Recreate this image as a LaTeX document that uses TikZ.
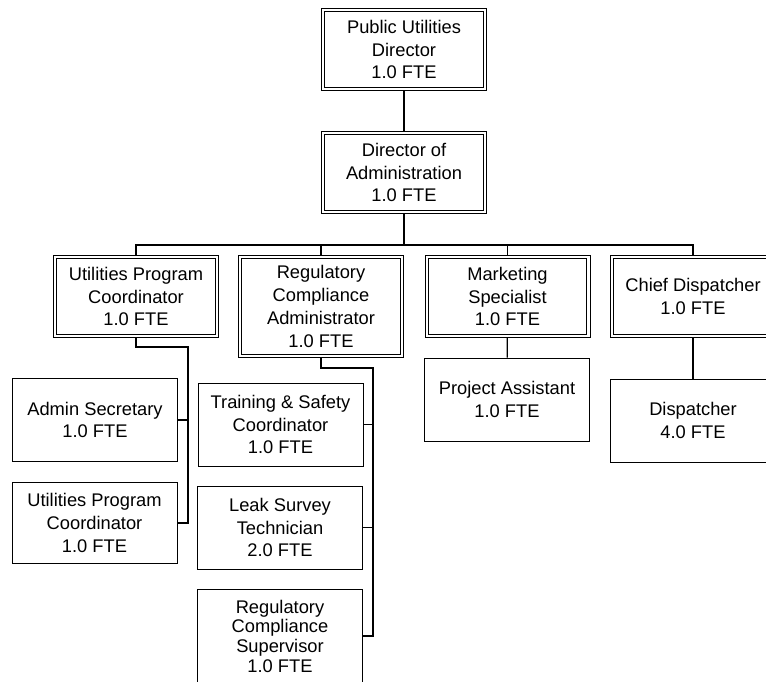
\documentclass[tikz,border=0pt]{standalone}
\usepackage{fontspec}
\setmainfont{Liberation Sans}
\usetikzlibrary{positioning}

\begin{document}
\begin{tikzpicture}[x=1pt, y=-1pt, font=\fontsize{18.3}{22.7}\selectfont,
    box/.style={draw, line width=1pt, inner sep=0pt, align=center, minimum width=165pt, minimum height=83pt},
    headbox/.style={box, double, double distance=2.3pt, outer sep=2.15pt, minimum width=161.7pt, minimum height=78.7pt},
    link/.style={line width=1.2pt}]
    \useasboundingbox (0,0) rectangle (766,681);
    \clip (0,0) rectangle (766,681);
    % management
    \node[headbox] (pud) at (404,49.5) {Public Utilities\\Director\\1.0 FTE};
    \node[headbox] (doa) at (404,172.5) {Director of\\Administration\\1.0 FTE};
    % divisions
    \node[headbox] (upc) at (136,296.5) {Utilities Program\\Coordinator\\1.0 FTE};
    \node[headbox, minimum height=98.7pt] (rca) at (321,306.5) {Regulatory\\Compliance\\Administrator\\1.0 FTE};
    \node[headbox] (ms) at (507.5,296.5) {Marketing\\Specialist\\1.0 FTE};
    \node[headbox] (cd) at (693,296.5) {Chief Dispatcher\\1.0 FTE};
    % staff
    \node[box] (as) at (95,420) {Admin Secretary\\1.0 FTE};
    \node[box, minimum height=81pt] (upc2) at (94.5,523) {Utilities Program\\Coordinator\\1.0 FTE};
    \node[box] (tsc) at (280.5,424.5) {Training \& Safety\\Coordinator\\1.0 FTE};
    \node[box] (lst) at (280,527.5) {Leak Survey\\Technician\\2.0 FTE};
    \node[box, minimum height=93pt, font=\fontsize{18.3}{19.7}\selectfont] (rcs) at (280,636) {Regulatory\\Compliance\\Supervisor\\1.0 FTE};
    \node[box] (pa) at (507,399.5) {Project Assistant\\1.0 FTE};
    \node[box] (dis) at (693,420.5) {Dispatcher\\4.0 FTE};
    % connectors
    \coordinate (bus) at (404,245);
    \coordinate (upcbend) at (188,347);
    \coordinate (rcabend) at (373,368);
    \draw[link] (pud) -- (doa);
    \draw[link] (doa) -- (bus);
    \draw[link] (upc.north) |- (bus) -| (cd.north);
    \draw[link] (rca.north) -- (rca.north |- bus);
    \draw[link] (ms.north) -- (ms.north |- bus);
    \draw[link] (upc.south) |- (upcbend) |- (upc2.east);
    \draw[link] (as.east) -- (as.east -| upcbend);
    \draw[link] (rca.south) |- (rcabend) |- (rcs.east);
    \draw[link] (tsc.east) -- (tsc.east -| rcabend);
    \draw[link] (lst.east) -- (lst.east -| rcabend);
    \draw[link] (ms) -- (pa);
    \draw[link] (cd) -- (dis);
\end{tikzpicture}
\end{document}
